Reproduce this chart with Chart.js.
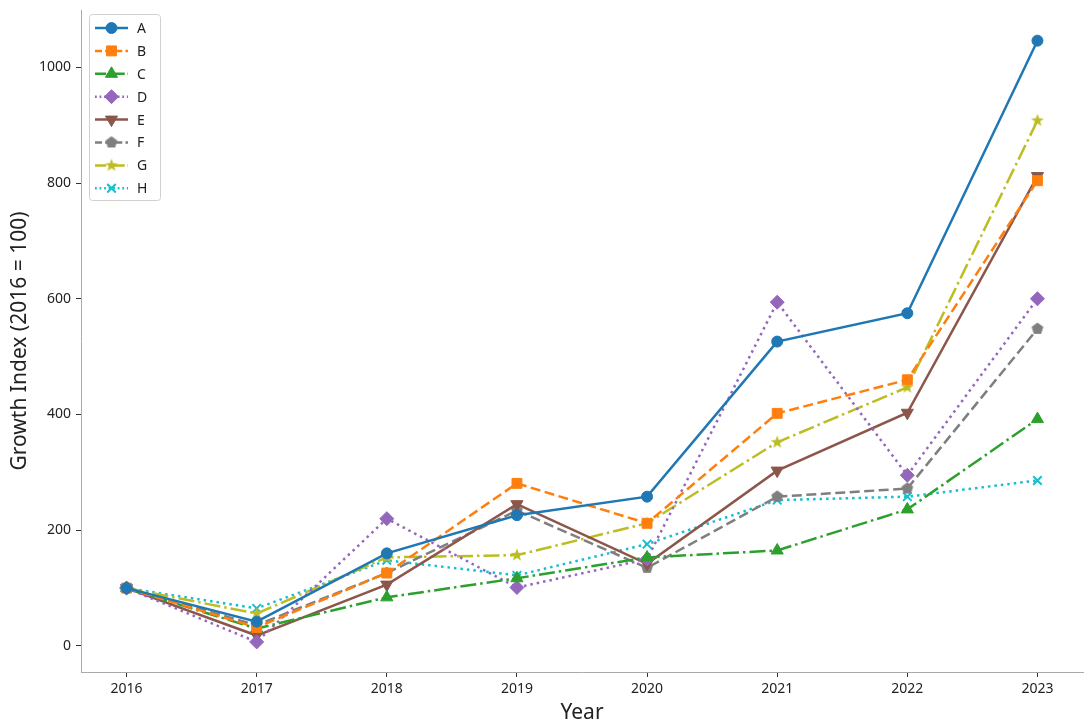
<!DOCTYPE html>
<html lang="en">
<head>
    <meta charset="UTF-8">
    <title>Growth Index</title>
    <script src="https://cdn.jsdelivr.net/npm/chart.js"></script>
    <style>
        html, body { margin: 0; padding: 0; background: #fff; overflow: hidden; }
        #wrap { width: 1086px; height: 723px; overflow: hidden; }
    </style>
</head>
<body>
    <div id="wrap"><canvas id="myChart" width="1091" height="723"></canvas></div>
    <script>
        // data
        const years = [2016, 2017, 2018, 2019, 2020, 2021, 2022, 2023];
        const seriesA = [100, 42, 160, 226, 258, 526, 575, 1046];
        const seriesB = [100, 32, 126, 281, 212, 402, 460, 804];
        const seriesC = [100, 30, 84, 117, 153, 165, 236, 392];
        const seriesD = [100, 7, 220, 101, 150, 594, 295, 600];
        const seriesE = [100, 18, 106, 245, 142, 303, 403, 812];
        const seriesF = [100, 36, 126, 234, 135, 258, 272, 548];
        const seriesG = [100, 56, 153, 157, 212, 352, 447, 908];
        const seriesH = [100, 65, 148, 122, 176, 252, 258, 286];
        const yTicks = [0, 200, 400, 600, 800, 1000];

        function shapeCanvas(color, pts) {
            const c = document.createElement('canvas');
            c.width = 14; c.height = 14;
            const g = c.getContext('2d');
            g.fillStyle = color;
            g.beginPath();
            pts.forEach((p, i) => i ? g.lineTo(7 + p[0], 7 + p[1]) : g.moveTo(7 + p[0], 7 + p[1]));
            g.closePath();
            g.fill();
            return c;
        }
        function polyPts(n, r1, r2) {
            let pts = [];
            let k = r2 ? n * 2 : n;
            for (let i = 0; i < k; i++) {
                let a = -Math.PI / 2 + i * 2 * Math.PI / k;
                let r = (r2 && i % 2) ? r2 : r1;
                pts.push([r * Math.cos(a), r * Math.sin(a)]);
            }
            return pts;
        }
        const pentagon = shapeCanvas('#7f7f7f', polyPts(5, 6.2));
        const star = shapeCanvas('#bcbd22', polyPts(5, 6.8, 2.8));

        const seriesInfo = [
            { label: 'A', data: seriesA, color: '#1f77b4', dash: [], style: 'circle', r: 5.5 },
            { label: 'B', data: seriesB, color: '#ff7f0e', dash: [10, 4.5], style: 'rect', r: 7 },
            { label: 'C', data: seriesC, color: '#2ca02c', dash: [16, 4, 2.5, 4], style: 'triangle', r: 7 },
            { label: 'D', data: seriesD, color: '#9467bd', dash: [2.5, 4], style: 'rectRot', r: 7 },
            { label: 'E', data: seriesE, color: '#8c564b', dash: [], style: 'triangle', r: 7, rot: 180 },
            { label: 'F', data: seriesF, color: '#7f7f7f', dash: [10, 4.5], style: pentagon, r: 7 },
            { label: 'G', data: seriesG, color: '#bcbd22', dash: [16, 4, 2.5, 4], style: star, r: 7 },
            { label: 'H', data: seriesH, color: '#17becf', dash: [2.5, 4], style: 'crossRot', r: 6, bw: 2 }
        ];

        const legendBox = {
            id: 'legendBox',
            afterDraw(chart) {
                const ctx = chart.ctx;
                ctx.save();
                ctx.fillStyle = 'rgba(255,255,255,0.8)';
                ctx.strokeStyle = '#d0d0d0';
                ctx.lineWidth = 1;
                ctx.beginPath();
                ctx.roundRect(89.5, 14.5, 71, 186, 3);
                ctx.fill();
                ctx.stroke();
                seriesInfo.forEach((s, i) => {
                    const y = 28 + i * 22.9;
                    ctx.strokeStyle = s.color;
                    ctx.lineWidth = 2.5;
                    ctx.setLineDash(s.dash.length ? s.dash.map(v => v * 0.7) : []);
                    ctx.beginPath();
                    ctx.moveTo(95, y);
                    ctx.lineTo(128, y);
                    ctx.stroke();
                    ctx.setLineDash([]);
                    ctx.fillStyle = s.color;
                    ctx.lineWidth = s.bw || 1;
                    Chart.helpers.drawPoint(ctx, { pointStyle: s.style, rotation: s.rot || 0, radius: s.r, borderWidth: s.bw || 1 }, 111.5, y);
                    ctx.fillStyle = '#222';
                    ctx.font = '14px "Noto Sans"';
                    ctx.textBaseline = 'middle';
                    ctx.fillText(s.label, 137, y + 1);
                });
                ctx.restore();
            }
        };

        const ctx = document.getElementById('myChart').getContext('2d');
        const myChart = new Chart(ctx, {
            type: 'line',
            data: {
                datasets: seriesInfo.map(s => ({
                    label: s.label,
                    data: s.data.map((v, i) => ({ x: years[i], y: v })),
                    borderColor: s.color,
                    backgroundColor: s.color,
                    borderWidth: 2.5,
                    borderDash: s.dash,
                    pointStyle: s.style,
                    pointRadius: s.r,
                    pointRotation: s.rot || 0,
                    pointBorderWidth: s.bw || 1,
                    tension: 0,
                    fill: false
                }))
            },
            options: {
                responsive: false,
                animation: false,
                layout: { padding: { left: 0, right: 3, top: 10, bottom: 0 } },
                plugins: { legend: { display: false }, tooltip: { enabled: false } },
                scales: {
                    x: {
                        type: 'linear',
                        min: 2015.65,
                        max: 2023.35,
                        afterBuildTicks: s => { s.ticks = years.map(v => ({ value: v })); },
                        afterFit: s => { s.height = 51; s.paddingLeft = 0; s.paddingRight = 0; },
                        grid: { drawOnChartArea: false, drawTicks: true, tickLength: 5, color: '#333' },
                        border: { display: true, color: '#aaa', width: 1 },
                        ticks: { color: '#222', font: { family: 'Noto Sans', size: 14 }, padding: 4, callback: v => String(v) },
                        title: { display: true, text: 'Year', color: '#222', font: { family: 'Noto Sans', size: 21 }, padding: { top: 0, bottom: -3 } }
                    },
                    y: {
                        min: -45,
                        max: 1099,
                        afterBuildTicks: s => { s.ticks = yTicks.map(v => ({ value: v })); },
                        afterFit: s => { s.width = 81; s.paddingTop = 0; s.paddingBottom = 0; },
                        grid: { drawOnChartArea: false, drawTicks: true, tickLength: 5, color: '#333' },
                        border: { display: true, color: '#aaa', width: 1 },
                        ticks: { color: '#222', font: { family: 'Noto Sans', size: 14 }, padding: 5, callback: v => String(v) },
                        title: { display: true, text: 'Growth Index (2016 = 100)', color: '#222', font: { family: 'Noto Sans', size: 21 }, padding: { top: 7, bottom: 0 } }
                    }
                }
            },
            plugins: [legendBox]
        });
    </script>
</body>
</html>
